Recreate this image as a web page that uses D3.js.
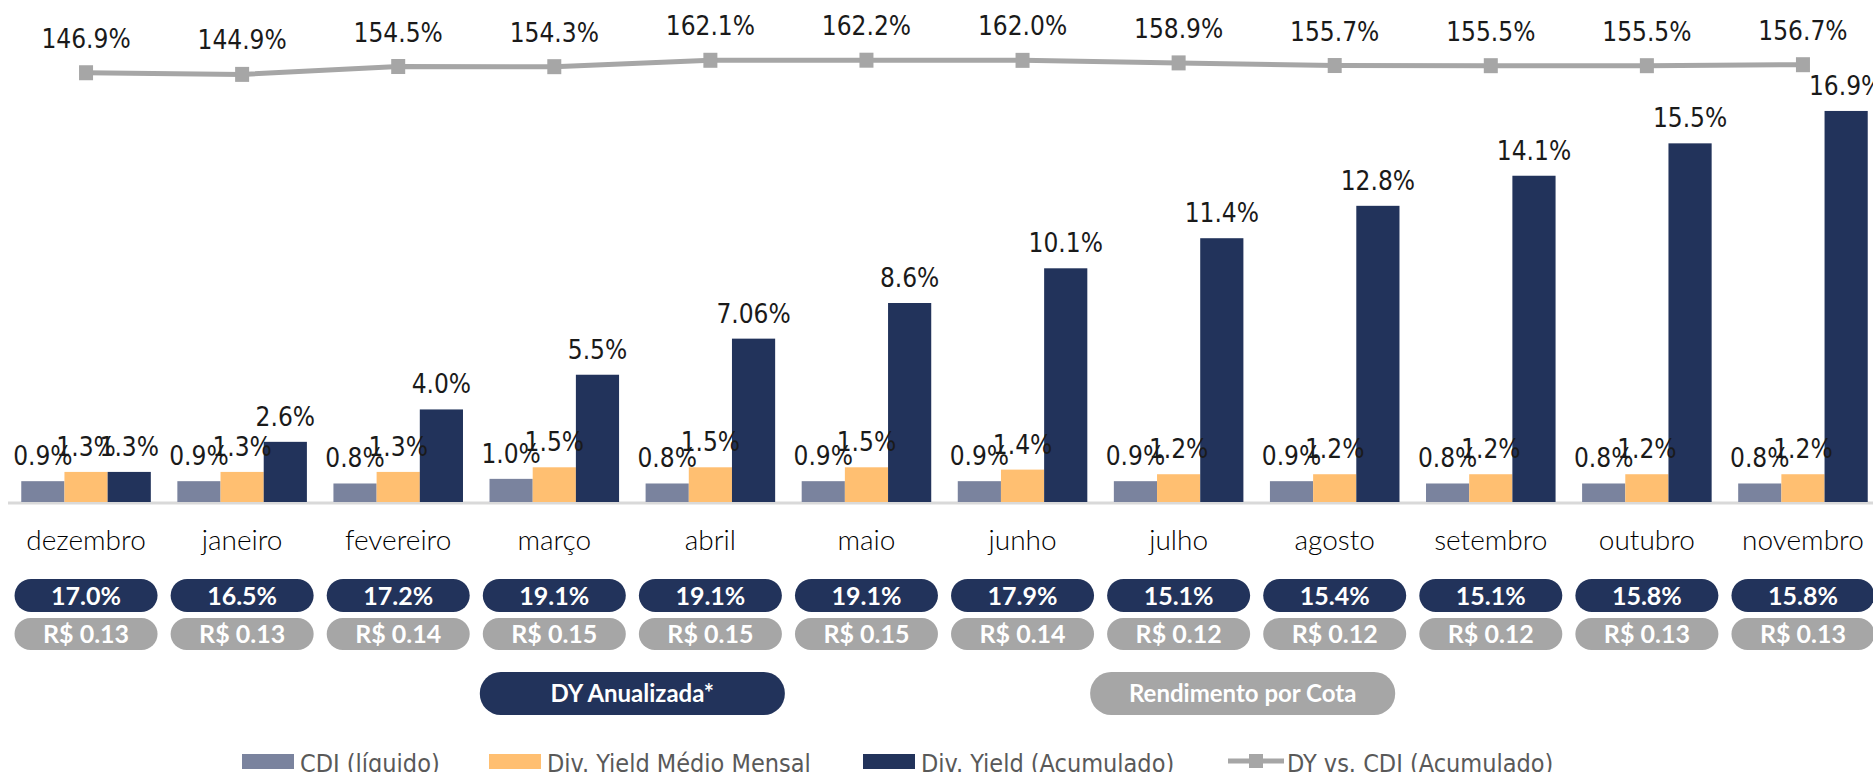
<!DOCTYPE html>
<html lang="pt">
<head>
<meta charset="UTF-8">
<title>DY vs CDI</title>
<script src="https://d3js.org/d3.v7.min.js"></script>
<style>
  body { margin: 0; background: #fff; }
  svg { display: block; }
  .lbl { font-family: "Liberation Sans Narrow", "DejaVu Sans Condensed", "Arial Narrow", sans-serif; font-size: 26px; fill: #1a1a1a; }
  .month { font-family: Lato, "Open Sans", sans-serif; font-size: 28px; font-weight: 300; fill: #000; }
  .pill { font-family: Lato, "Open Sans", sans-serif; font-weight: 700; fill: #fff; }
  .legend { font-family: "Liberation Sans Narrow", "DejaVu Sans Condensed", sans-serif; font-size: 25px; fill: #595959; }
</style>
</head>
<body>
<script>
var width = 1873,
    height = 772;

// data
var months = ["dezembro", "janeiro", "fevereiro", "março", "abril", "maio",
              "junho", "julho", "agosto", "setembro", "outubro", "novembro"];
var cdi      = [0.9, 0.9, 0.8, 1.0, 0.8, 0.9, 0.9, 0.9, 0.9, 0.8, 0.8, 0.8];
var dyMensal = [1.3, 1.3, 1.3, 1.5, 1.5, 1.5, 1.4, 1.2, 1.2, 1.2, 1.2, 1.2];
var dyAcum   = [1.3, 2.6, 4.0, 5.5, 7.06, 8.6, 10.1, 11.4, 12.8, 14.1, 15.5, 16.9];
var dyVsCdi  = [146.9, 144.9, 154.5, 154.3, 162.1, 162.2, 162.0, 158.9, 155.7, 155.5, 155.5, 156.7];
var dyAnual  = [17.0, 16.5, 17.2, 19.1, 19.1, 19.1, 17.9, 15.1, 15.4, 15.1, 15.8, 15.8];
var rendCota = [0.13, 0.13, 0.14, 0.15, 0.15, 0.15, 0.14, 0.12, 0.12, 0.12, 0.13, 0.13];

var seriesNames = ["CDI (líquido)", "Div. Yield Médio Mensal", "Div. Yield (Acumulado)", "DY vs. CDI (Acumulado)"];
var colors = ["#7a839e", "#ffbf71", "#22335b", "#a6a6a6"];

var barSeries = [cdi, dyMensal, dyAcum];

var svg = d3.select("body").append("svg")
    .attr("width", width)
    .attr("height", height);

var x0 = d3.scaleBand()
    .domain(months)
    .range([8, 1881])
    .paddingInner(0.17)
    .paddingOuter(0.085);

var x1 = d3.scaleBand()
    .domain([0, 1, 2])
    .range([0, x0.bandwidth()]);

var y = d3.scaleLinear().domain([0, 18]).range([502, 85.5]);
var yLine = d3.scaleLinear().domain([100, 200]).range([111.2, 29.2]);

function cx(m) { return x0(m) + x0.bandwidth() / 2; }
function pct(v) {
  return (Math.round(v * 10) / 10 === v ? v.toFixed(1) : String(v)) + "%";
}

// baseline
svg.append("line")
    .attr("x1", 8).attr("x2", width)
    .attr("y1", y(0) + 1).attr("y2", y(0) + 1)
    .attr("stroke", "#d9d9d9")
    .attr("stroke-width", 3);

// bars
var rows = [];
months.forEach(function(m, i) {
  barSeries.forEach(function(s, k) {
    rows.push({ month: m, k: k, v: s[i] });
  });
});

svg.selectAll("rect.bar").data(rows).enter().append("rect")
    .attr("class", "bar")
    .attr("x", function(d) { return x0(d.month) + x1(d.k); })
    .attr("width", x1.bandwidth())
    .attr("y", function(d) { return y(d.v); })
    .attr("height", function(d) { return y(0) - y(d.v); })
    .attr("fill", function(d) { return colors[d.k]; });

svg.selectAll("text.barlbl").data(rows).enter().append("text")
    .attr("class", "lbl barlbl")
    .attr("x", function(d) { return x0(d.month) + x1(d.k) + x1.bandwidth() / 2; })
    .attr("y", function(d) { return y(d.v) - 16; })
    .attr("text-anchor", "middle")
    .text(function(d) { return pct(d.v); });

// line DY vs CDI
var linePts = months.map(function(m, i) { return { month: m, v: dyVsCdi[i] }; });

svg.append("path")
    .datum(linePts)
    .attr("fill", "none")
    .attr("stroke", colors[3])
    .attr("stroke-width", 5)
    .attr("d", d3.line()
      .x(function(d) { return cx(d.month); })
      .y(function(d) { return yLine(d.v); }));

svg.selectAll("rect.marker").data(linePts).enter().append("rect")
    .attr("class", "marker")
    .attr("x", function(d) { return cx(d.month) - 7; })
    .attr("y", function(d) { return yLine(d.v) - 7.5; })
    .attr("width", 14)
    .attr("height", 15)
    .attr("fill", colors[3]);

svg.selectAll("text.linelbl").data(linePts).enter().append("text")
    .attr("class", "lbl linelbl")
    .attr("x", function(d) { return cx(d.month); })
    .attr("y", function(d) { return yLine(d.v) - 25; })
    .attr("text-anchor", "middle")
    .text(function(d) { return d.v.toFixed(1) + "%"; });

// month labels
svg.selectAll("text.month").data(months).enter().append("text")
    .attr("class", "month")
    .attr("x", cx)
    .attr("y", 550)
    .attr("text-anchor", "middle")
    .text(function(d) { return d; });

// pills per month
function pillRow(values, fmt, top, h, fill) {
  var g = svg.append("g");
  var cells = g.selectAll("g").data(months).enter().append("g");
  cells.append("rect")
      .attr("x", function(d) { return cx(d) - 71.5; })
      .attr("y", top)
      .attr("width", 143)
      .attr("height", h)
      .attr("rx", h / 2)
      .attr("fill", fill);
  cells.append("text")
      .attr("class", "pill")
      .attr("x", cx)
      .attr("y", top + h / 2)
      .attr("dy", "0.36em")
      .attr("text-anchor", "middle")
      .style("font-size", "25px")
      .text(function(d, i) { return fmt(values[i]); });
}
pillRow(dyAnual, function(v) { return v.toFixed(1) + "%"; }, 579, 33, colors[2]);
pillRow(rendCota, function(v) { return "R$ " + v.toFixed(2); }, 618, 32, colors[3]);

// bottom badges
var badges = [
  { text: "DY Anualizada*", cx: (cx("março") + cx("abril")) / 2, fill: colors[2] },
  { text: "Rendimento por Cota", cx: (cx("julho") + cx("agosto")) / 2 - 14, fill: colors[3] }
];
var bg = svg.selectAll("g.badge").data(badges).enter().append("g").attr("class", "badge");
bg.append("rect")
    .attr("x", function(d) { return d.cx - 152.5; })
    .attr("y", 672)
    .attr("width", 305)
    .attr("height", 43)
    .attr("rx", 21)
    .attr("fill", function(d) { return d.fill; });
bg.append("text")
    .attr("class", "pill")
    .attr("x", function(d) { return d.cx; })
    .attr("y", 693.5)
    .attr("dy", "0.36em")
    .attr("text-anchor", "middle")
    .style("font-size", "24px")
    .text(function(d) { return d.text; });

// legend
var legendX = [242, 489, 863, 1228];
var leg = svg.selectAll("g.leg").data(seriesNames).enter().append("g")
    .attr("class", "leg")
    .attr("transform", function(d, i) { return "translate(" + legendX[i] + ",0)"; });

leg.filter(function(d, i) { return i < 3; }).append("rect")
    .attr("x", 0).attr("y", 754)
    .attr("width", 52).attr("height", 15)
    .attr("fill", function(d, i) { return colors[i]; });

var lineLeg = leg.filter(function(d, i) { return i === 3; });
lineLeg.append("line")
    .attr("x1", 0).attr("x2", 56)
    .attr("y1", 761).attr("y2", 761)
    .attr("stroke", colors[3]).attr("stroke-width", 5);
lineLeg.append("rect")
    .attr("x", 21).attr("y", 754)
    .attr("width", 14).attr("height", 14)
    .attr("fill", colors[3]);

leg.append("text")
    .attr("class", "legend")
    .attr("x", function(d, i) { return i === 3 ? 59 : 58; })
    .attr("y", 772)
    .text(function(d) { return d; });
</script>
</body>
</html>
